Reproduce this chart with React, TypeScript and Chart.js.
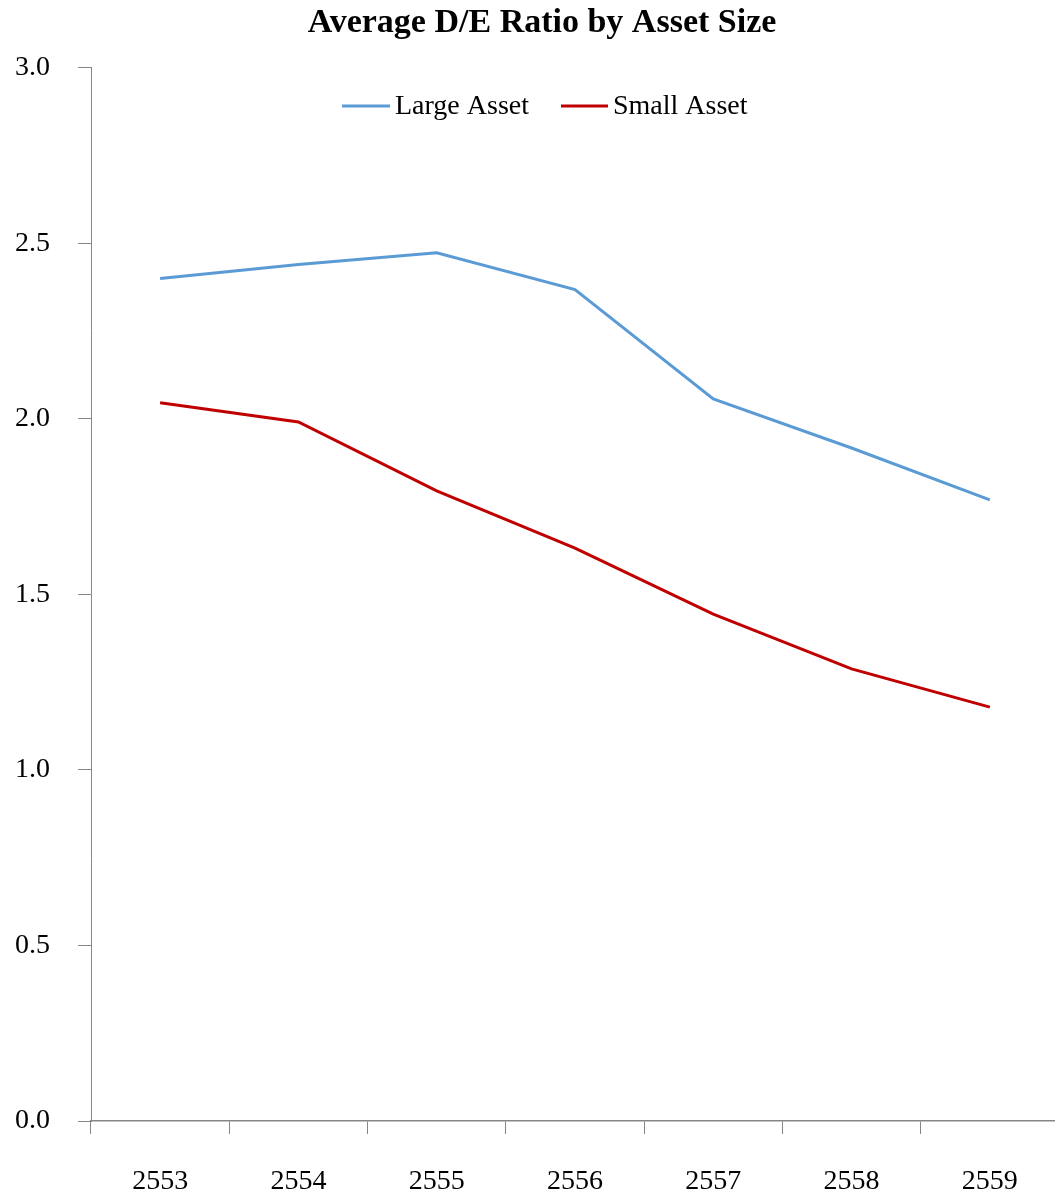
import React, { useEffect, useRef } from "react";
import { Chart, registerables } from "chart.js";

Chart.register(...registerables);

const categories = ["2553", "2554", "2555", "2556", "2557", "2558", "2559"];
const largeAsset = [2.40, 2.44, 2.473, 2.368, 2.057, 1.917, 1.769];
const smallAsset = [2.046, 1.991, 1.795, 1.632, 1.444, 1.288, 1.179];
const seriesNames = ["Large Asset", "Small Asset"];
const seriesColors = ["#5B9BD5", "#C00000"];
const titleText = "Average D/E Ratio by Asset Size";

const FONT = "'Liberation Serif', 'Times New Roman', serif";
const AXIS = "#868686";

const overlayPlugin = {
  id: "overlayText",
  afterDraw(chart: any) {
    const ctx = chart.ctx;
    ctx.save();
    // title
    ctx.font = `bold 34px ${FONT}`;
    ctx.fillStyle = "#000";
    ctx.textAlign = "center";
    ctx.textBaseline = "middle";
    ctx.fillText(titleText, 542, 23);
    // legend
    const y = 106;
    const items = [
      { x0: 342, x1: 390, tx: 395 },
      { x0: 561, x1: 608, tx: 613 },
    ];
    ctx.font = `28px ${FONT}`;
    ctx.textAlign = "left";
    items.forEach((it, i) => {
      ctx.strokeStyle = seriesColors[i];
      ctx.lineWidth = 3;
      ctx.beginPath();
      ctx.moveTo(it.x0, y);
      ctx.lineTo(it.x1, y);
      ctx.stroke();
      ctx.fillStyle = "#000";
      ctx.fillText(seriesNames[i], it.tx, y + 1);
    });
    ctx.restore();
  },
};

export default function App() {
  const ref = useRef<HTMLCanvasElement>(null);
  useEffect(() => {
    if (!ref.current) return;
    const chart = new Chart(ref.current, {
      type: "line",
      data: {
        labels: categories,
        datasets: [
          {
            label: seriesNames[0],
            data: largeAsset,
            borderColor: seriesColors[0],
            backgroundColor: seriesColors[0],
            borderWidth: 3,
            pointRadius: 0,
            tension: 0,
          },
          {
            label: seriesNames[1],
            data: smallAsset,
            borderColor: seriesColors[1],
            backgroundColor: seriesColors[1],
            borderWidth: 3,
            pointRadius: 0,
            tension: 0,
          },
        ],
      },
      options: {
        animation: false,
        responsive: false,
        layout: { padding: 0 },
        plugins: {
          legend: { display: false },
          tooltip: { enabled: false },
          title: {
            display: true,
            text: titleText,
            color: "rgba(0,0,0,0)",
            font: { family: FONT, size: 34, weight: "bold" },
            padding: { top: 3, bottom: 24 },
          },
        },
        scales: {
          x: {
            offset: true,
            grid: {
              offset: true,
              drawOnChartArea: false,
              drawTicks: true,
              tickLength: 13,
              color: AXIS,
              lineWidth: 1,
            },
            border: { display: true, color: AXIS, width: 1.5 },
            ticks: {
              color: "#000",
              font: { family: FONT, size: 28 },
              padding: 31,
              maxRotation: 0,
            },
            afterFit(scale: any) {
              scale.height = 76;
            },
          },
          y: {
            min: 0,
            max: 3,
            grid: {
              drawOnChartArea: false,
              drawTicks: true,
              tickLength: 13,
              color: AXIS,
              lineWidth: 1,
            },
            border: { display: true, color: AXIS, width: 1 },
            ticks: {
              stepSize: 0.5,
              color: "#000",
              font: { family: FONT, size: 28 },
              padding: 28,
              callback: (v: any) => Number(v).toFixed(1),
            },
            afterFit(scale: any) {
              scale.width = 91;
            },
          },
        },
      },
      plugins: [overlayPlugin],
    });
    return () => chart.destroy();
  }, []);
  return (
    <div style={{ position: "absolute", left: 0, top: 0, width: 1055, height: 1197, overflow: "hidden", background: "#fff" }}>
      <canvas ref={ref} width={1059} height={1197} style={{ display: "block" }} />
    </div>
  );
}
